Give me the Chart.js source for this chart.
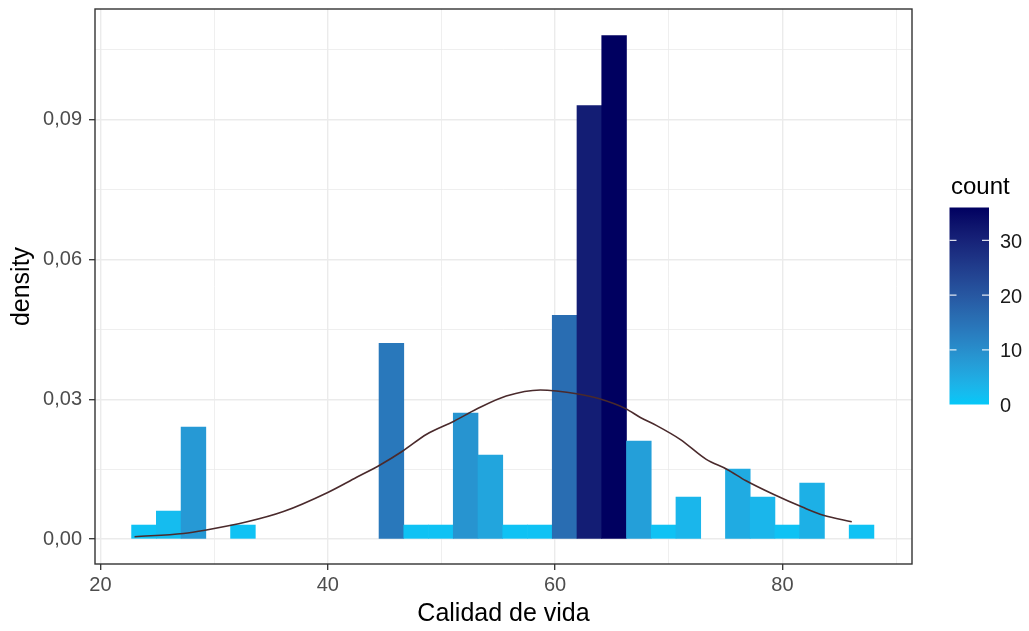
<!DOCTYPE html>
<html>
<head>
<meta charset="utf-8">
<title>Calidad de vida</title>
<script src="https://cdn.jsdelivr.net/npm/chart.js@4.4.1/dist/chart.umd.min.js"></script>
<style>
  html, body { margin: 0; padding: 0; background: #fff; }
</style>
</head>
<body>
<canvas id="histChart" width="1029" height="631"></canvas>
<script>
// histogram bins (left edge of first bin + width) and counts per bin
const binStart = 22.74;
const binWidth = 2.177;
const counts = [1, 2, 8, 0, 1, 0, 0, 0, 0, 0, 14, 1, 1, 9, 6, 1, 1, 16, 31, 36, 7, 1, 3, 0, 5, 3, 1, 4, 0, 1];

// normal curve overlaid on the histogram
const curveX = [23.0, 27.3, 29.2, 32.9, 36.1, 40.0, 42.5, 44.6, 46.6, 48.7, 51.1, 53.1, 55.7, 58.7,
                60.1, 61.9, 63.9, 66.2, 67.5, 68.9, 71.0, 73.3, 75.1, 76.8, 79.2, 81.8, 83.6, 86.1];
const curveY = [0.0005, 0.0012, 0.0019, 0.0037, 0.0059, 0.0100, 0.0132, 0.0159, 0.0189, 0.0225, 0.0253, 0.0279, 0.0307, 0.0320,
                0.0318, 0.0312, 0.0301, 0.0280, 0.0261, 0.0244, 0.0214, 0.0171, 0.0150, 0.0125, 0.0096, 0.0068, 0.0051, 0.0037];

// axis breaks
const xTicks = [20, 40, 60, 80];
const yTicks = [0, 0.03, 0.06, 0.09];
const countTicks = [0, 10, 20, 30];

const FONT = "'Liberation Sans', Arial, sans-serif";
const lowColor = [5, 200, 248];
const highColor = [0, 0, 96];

// --- colour helpers (Lab interpolation like ggplot's gradient) ---
function toLin(c) { c /= 255; return c <= 0.04045 ? c / 12.92 : Math.pow((c + 0.055) / 1.055, 2.4); }
function fromLin(c) {
  const v = c <= 0.0031308 ? 12.92 * c : 1.055 * Math.pow(c, 1 / 2.4) - 0.055;
  return Math.round(Math.min(1, Math.max(0, v)) * 255);
}
function rgbToLab(rgb) {
  const r = toLin(rgb[0]), g = toLin(rgb[1]), b = toLin(rgb[2]);
  const x = (0.4124 * r + 0.3576 * g + 0.1805 * b) / 0.95047;
  const y = 0.2126 * r + 0.7152 * g + 0.0722 * b;
  const z = (0.0193 * r + 0.1192 * g + 0.9505 * b) / 1.08883;
  const f = t => t > 0.008856 ? Math.cbrt(t) : 7.787 * t + 16 / 116;
  const fx = f(x), fy = f(y), fz = f(z);
  return [116 * fy - 16, 500 * (fx - fy), 200 * (fy - fz)];
}
function labToRgb(lab) {
  const fy = (lab[0] + 16) / 116, fx = fy + lab[1] / 500, fz = fy - lab[2] / 200;
  const inv = t => t * t * t > 0.008856 ? t * t * t : (t - 16 / 116) / 7.787;
  const x = inv(fx) * 0.95047, y = inv(fy), z = inv(fz) * 1.08883;
  const r = 3.2406 * x - 1.5372 * y - 0.4986 * z;
  const g = -0.9689 * x + 1.8758 * y + 0.0415 * z;
  const b = 0.0557 * x - 0.2040 * y + 1.0570 * z;
  return [fromLin(r), fromLin(g), fromLin(b)];
}
const labLow = rgbToLab(lowColor), labHigh = rgbToLab(highColor);
function gradientColor(t) {
  const lab = labLow.map((v, i) => v + (labHigh[i] - v) * t);
  const c = labToRgb(lab);
  return `rgb(${c[0]},${c[1]},${c[2]})`;
}

const total = counts.reduce((a, b) => a + b, 0);
const maxCount = Math.max(...counts);
const bars = counts.map((c, i) => ({ x: binStart + binWidth * (i + 0.5), y: c / (total * binWidth) }));
// empty bins stay invisible
const barColors = counts.map(c => c > 0 ? gradientColor(c / maxCount) : 'rgba(0,0,0,0)');
const curve = curveX.map((x, i) => ({ x: x, y: curveY[i] }));

const xGrid = xTicks.concat(xTicks.map(v => v + 10)).sort((a, b) => a - b);
const yGrid = yTicks.concat(yTicks.map(v => +(v + 0.015).toFixed(3))).sort((a, b) => a - b);

// panel border + colourbar legend
const panelPlugin = {
  id: 'panel',
  afterDraw(chart) {
    const { ctx, chartArea: a } = chart;
    ctx.save();
    ctx.strokeStyle = '#333333';
    ctx.lineWidth = 1.4;
    ctx.strokeRect(a.left, a.top, a.right - a.left, a.bottom - a.top);

    // legend title
    ctx.fillStyle = '#000';
    ctx.font = `24px ${FONT}`;
    ctx.textAlign = 'left';
    ctx.textBaseline = 'alphabetic';
    ctx.fillText('count', 951, 194);

    // colour bar
    const bx = 949.5, bw = 39.5, top = 207.5, bottom = 404.5;
    const grad = ctx.createLinearGradient(0, bottom, 0, top);
    for (let k = 0; k <= 20; k++) grad.addColorStop(k / 20, gradientColor(k / 20));
    ctx.fillStyle = grad;
    ctx.fillRect(bx, top, bw, bottom - top);

    ctx.font = `20px ${FONT}`;
    ctx.textBaseline = 'middle';
    countTicks.forEach(v => {
      const y = bottom - (v / maxCount) * (bottom - top);
      if (v > 0) {
        ctx.strokeStyle = 'rgba(255,255,255,0.85)';
        ctx.lineWidth = 1.2;
        ctx.beginPath();
        ctx.moveTo(bx, y); ctx.lineTo(bx + 7, y);
        ctx.moveTo(bx + bw - 7, y); ctx.lineTo(bx + bw, y);
        ctx.stroke();
      }
      ctx.fillStyle = '#1a1a1a';
      ctx.fillText(String(v), 1000, y + 2);
    });
    ctx.restore();
  }
};

new Chart(document.getElementById('histChart'), {
  type: 'bar',
  data: {
    datasets: [
      {
        type: 'line',
        data: curve,
        borderColor: '#4a2a2c',
        borderWidth: 1.6,
        pointRadius: 0,
        cubicInterpolationMode: 'monotone',
        fill: false,
        order: 0
      },
      {
        type: 'bar',
        data: bars,
        backgroundColor: barColors,
        borderWidth: 0,
        barPercentage: 1,
        categoryPercentage: 1,
        order: 1
      }
    ]
  },
  options: {
    responsive: false,
    devicePixelRatio: 1,
    animation: false,
    layout: { padding: { left: 0, right: 117, top: 9, bottom: 0 } },
    plugins: { legend: { display: false }, tooltip: { enabled: false } },
    scales: {
      x: {
        type: 'linear',
        min: 19.52,
        max: 91.4,
        offset: false,
        afterFit(scale) { scale.height = 67; scale.paddingLeft = 0; scale.paddingRight = 0; },
        afterBuildTicks(scale) { scale.ticks = xGrid.map(v => ({ value: v })); },
        ticks: {
          autoSkip: false,
          maxRotation: 0,
          padding: 3,
          color: '#4d4d4d',
          font: { family: FONT, size: 20 },
          callback: v => xTicks.includes(v) ? String(v) : ''
        },
        grid: {
          offset: false,
          color: '#ebebeb',
          lineWidth: c => xTicks.includes(c.tick && c.tick.value) ? 1.4 : 0.8,
          tickColor: c => xTicks.includes(c.tick && c.tick.value) ? '#333333' : 'rgba(0,0,0,0)',
          tickLength: 6,
          tickWidth: 1.3
        },
        border: { display: false },
        title: {
          display: true,
          text: 'Calidad de vida',
          color: '#000',
          font: { family: FONT, size: 25 },
          padding: { top: 0, bottom: 2 }
        }
      },
      y: {
        min: -0.00536,
        max: 0.1138,
        afterFit(scale) { scale.width = 95; scale.paddingTop = 0; scale.paddingBottom = 0; },
        afterBuildTicks(scale) { scale.ticks = yGrid.map(v => ({ value: v })); },
        ticks: {
          autoSkip: false,
          padding: 7,
          color: '#4d4d4d',
          font: { family: FONT, size: 20 },
          callback: v => yTicks.includes(v) ? v.toFixed(2).replace('.', ',') : ''
        },
        grid: {
          color: '#ebebeb',
          lineWidth: c => yTicks.includes(c.tick && c.tick.value) ? 1.4 : 0.8,
          tickColor: c => yTicks.includes(c.tick && c.tick.value) ? '#333333' : 'rgba(0,0,0,0)',
          tickLength: 6,
          tickWidth: 1.3
        },
        border: { display: false },
        title: {
          display: true,
          text: 'density',
          color: '#000',
          font: { family: FONT, size: 25 },
          padding: { top: 7, bottom: 0 }
        }
      }
    }
  },
  plugins: [panelPlugin]
});
</script>
</body>
</html>
